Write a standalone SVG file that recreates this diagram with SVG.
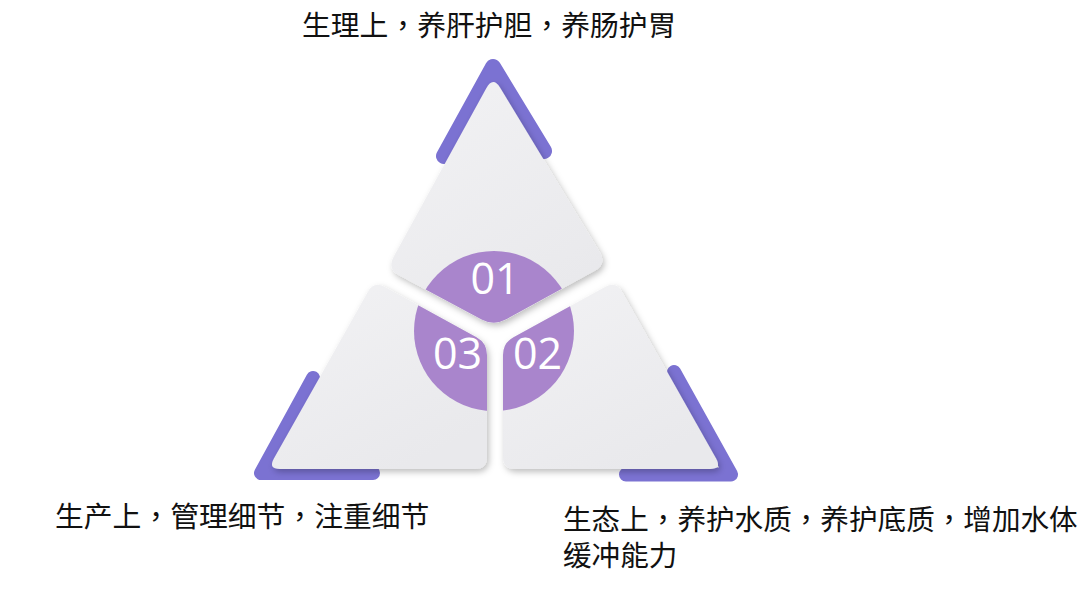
<svg xmlns="http://www.w3.org/2000/svg" xmlns:xlink="http://www.w3.org/1999/xlink" width="1080" height="592" viewBox="0 0 1080 592">
  <style>
    .cap { font-family: "Noto Sans CJK TC", "Noto Sans CJK SC", "Noto Sans", sans-serif; font-size: 28.8px; fill: #111111; }
    .num { font-family: "Open Sans", "Liberation Sans", sans-serif; font-size: 43px; fill: #ffffff; text-anchor: middle; }
    .band { fill: none; stroke: #7b72d2; stroke-width: 14; stroke-linejoin: round; stroke-linecap: round; }
    .piece { fill: url(#pieceGrad); filter: url(#shadow); }
  </style>
  <defs>
    <linearGradient id="pieceGrad" x1="0" y1="0" x2="0.6" y2="1">
      <stop offset="0" stop-color="#f2f2f4"/>
      <stop offset="1" stop-color="#e9e9ec"/>
    </linearGradient>
    <filter id="shadow" x="-20%" y="-20%" width="140%" height="140%">
      <feDropShadow dx="2" dy="3" stdDeviation="3" flood-color="#000000" flood-opacity="0.25"/>
    </filter>
    <path id="p1" d="M 500.3,88 L 599.7,252 Q 607,264 594.7,270.7 L 506.3,319.3 Q 494,326 481.6,319.4 L 399.4,275.6 Q 387,269 393.7,256.7 L 486.3,88.3 Q 493,76 500.3,88 Z"/>
    <path id="p3" d="M 384.5,286.8 L 476.5,337.2 Q 487,343 487,355 L 487,457 Q 487,469 475,469 L 280,469 Q 268,469 273.9,458.5 L 368.1,291.5 Q 374,281 384.5,286.8 Z"/>
    <path id="p2" d="M 605.5,286.8 L 513.5,337.2 Q 503,343 503,355 L 503,457 Q 503,469 515,469 L 710,469 Q 722,469 716.1,458.5 L 621.9,291.5 Q 616,281 605.5,286.8 Z"/>
    <clipPath id="pieceClip">
      <use xlink:href="#p1"/>
      <use xlink:href="#p2"/>
      <use xlink:href="#p3"/>
    </clipPath>
  </defs>

  <rect x="0" y="0" width="1080" height="592" fill="#ffffff"/>

  <g id="bands">
    <polyline class="band" style="stroke-width:16" points="444,156 493,67 544,151"/>
    <polyline class="band" points="313,378 261,473 373,473"/>
    <polyline class="band" points="674,372 731,474.5 626,474.5"/>
  </g>

  <g id="node-01">
    <use xlink:href="#p1" class="piece"/>
  </g>
  <g id="node-03">
    <use xlink:href="#p3" class="piece"/>
  </g>
  <g id="node-02">
    <use xlink:href="#p2" class="piece"/>
  </g>

  <g id="center-circle" clip-path="url(#pieceClip)">
    <circle cx="494" cy="331" r="80" fill="#a985cc"/>
  </g>

  <g id="numbers">
    <text class="num" x="495" y="294">01</text>
    <text class="num" x="457.5" y="369">03</text>
    <text class="num" x="537.5" y="369">02</text>
  </g>

  <g id="captions">
    <text class="cap" x="302" y="36">生理上，养肝护胆，养肠护胃</text>
    <text class="cap" x="55" y="527">生产上，管理细节，注重细节</text>
    <text class="cap" x="563" y="530" style="font-size:28.6px">生态上，养护水质，养护底质，增加水体</text>
    <text class="cap" x="563" y="566" style="font-size:28.6px">缓冲能力</text>
  </g>
</svg>
